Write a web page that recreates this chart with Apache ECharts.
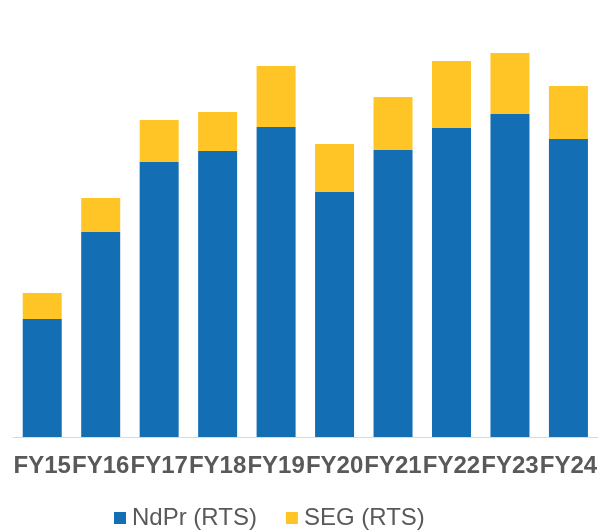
<!DOCTYPE html>
<html>
<head>
<meta charset="utf-8">
<script src="https://cdn.jsdelivr.net/npm/echarts@6/dist/echarts.min.js"></script>
<style>
html,body{margin:0;padding:0;background:#fff;}
#chart{width:600px;height:532px;}
</style>
</head>
<body>
<div id="chart"></div>
<script>
const categories = ['FY15','FY16','FY17','FY18','FY19','FY20','FY21','FY22','FY23','FY24'];
const ndprValues = [118, 205, 275, 286, 310, 245, 287, 309, 323, 298];
const segValues = [26, 34, 42, 39, 61, 48, 53, 67, 61, 53];
const seriesNames = ['NdPr (RTS)', 'SEG (RTS)'];

const chart = echarts.init(document.getElementById('chart'), null, {renderer:'canvas'});
chart.setOption({
  animation: false,
  backgroundColor: '#ffffff',
  grid: {left: 13, right: 0, top: 37, bottom: 95, containLabel: false},
  legend: {
    data: seriesNames,
    left: 114, top: 506, padding: 0,
    icon: 'rect', itemWidth: 12, itemHeight: 12, itemGap: 29,
    textStyle: {fontFamily: 'Liberation Sans, Arial, sans-serif', fontSize: 24, color: '#595959', padding: [0,0,0,1]}
  },
  xAxis: {
    type: 'category',
    data: categories,
    axisLine: {lineStyle: {color: '#d9d9d9', width: 1}},
    axisTick: {show: false},
    axisLabel: {fontFamily: 'Liberation Sans, Arial, sans-serif', fontSize: 24, fontWeight: 'bold', color: '#595959', margin: 17, interval: 0}
  },
  yAxis: {
    type: 'value', min: 0, max: 400, show: false,
    splitLine: {show: false}
  },
  series: [
    {name: seriesNames[0], type: 'bar', stack: 'total', data: ndprValues, barWidth: 39, itemStyle: {color: '#146EB4'}},
    {name: seriesNames[1], type: 'bar', stack: 'total', data: segValues, barWidth: 39, itemStyle: {color: '#FFC425'}}
  ]
});
</script>
</body>
</html>
